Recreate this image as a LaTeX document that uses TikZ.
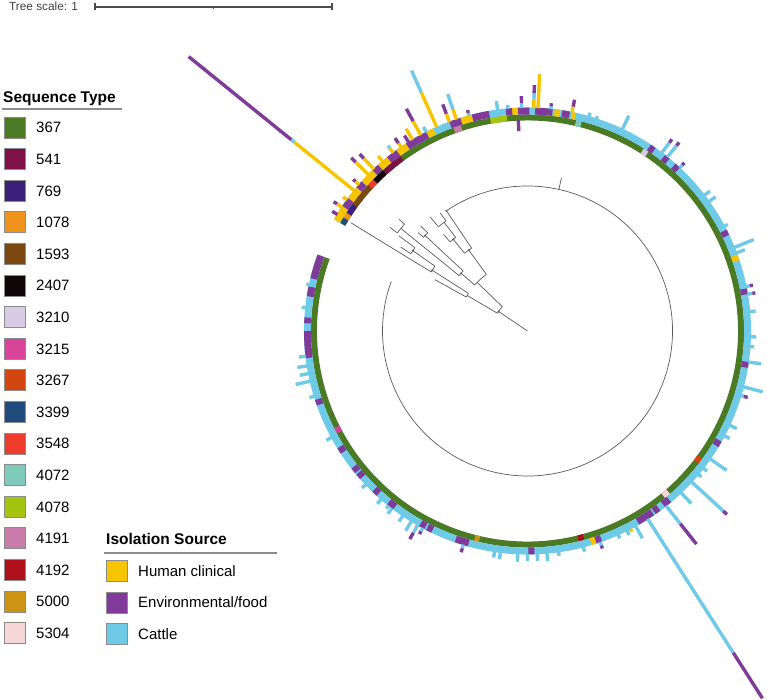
\documentclass[tikz,border=0pt]{standalone}
\usepackage{fontspec}
\setmainfont{Liberation Sans}
\usetikzlibrary{arrows.meta}
\usepackage{xcolor}

\definecolor{st367}{HTML}{4A7A23}
\definecolor{st541}{HTML}{7C1246}
\definecolor{st769}{HTML}{3B1F7A}
\definecolor{st1078}{HTML}{F0931E}
\definecolor{st1593}{HTML}{7A4810}
\definecolor{st2407}{HTML}{120609}
\definecolor{st3210}{HTML}{D9CBE6}
\definecolor{st3215}{HTML}{D9449A}
\definecolor{st3267}{HTML}{D4460F}
\definecolor{st3399}{HTML}{1F4C7C}
\definecolor{st3548}{HTML}{EF3B2C}
\definecolor{st4072}{HTML}{7FCABB}
\definecolor{st4078}{HTML}{A5C40F}
\definecolor{st4191}{HTML}{C97BA9}
\definecolor{st4192}{HTML}{AF0E1B}
\definecolor{st5000}{HTML}{CD9312}
\definecolor{st5304}{HTML}{F7D6D6}
\definecolor{hum}{HTML}{F6C500}
\definecolor{env}{HTML}{803A99}
\definecolor{cat}{HTML}{6FCAE8}

\begin{document}
\begin{tikzpicture}[x=1pt, y=1pt,
  key/.style={draw=black!45, line width=0.6pt, minimum size=21pt, inner sep=0pt},
  keylab/.style={anchor=base west, inner sep=0pt, font=\fontsize{15}{18}\selectfont},
  head/.style={anchor=base west, inner sep=0pt, font=\fontsize{15.5}{18}\selectfont\bfseries},
  rule/.style={draw=black!45, line width=1.1pt},
  branch/.style={draw=black!65, line width=0.7pt},
  stband/.style={line width=6pt},
  srcband/.style={line width=7pt},
  srcbar/.style={line width=3.4pt}
]
\useasboundingbox (0,0) rectangle (767,700);

% tree scale
\node[anchor=base west, inner sep=0pt, font=\fontsize{11.8}{14}\selectfont, text=black!75] (scaletxt) at (9,689) {Tree scale: 1};
\coordinate (sc0) at (95,693);
\coordinate (sc1) at (332,693);
\coordinate (scm) at (213.5,693);
\draw[draw=black!70, line width=1.1pt] (sc0) -- (sc1);
\draw[draw=black!70, line width=1.1pt] ([yshift=-3.5pt]sc0) -- ([yshift=3.5pt]sc0);
\draw[draw=black!70, line width=1.1pt] ([yshift=-3.5pt]sc1) -- ([yshift=3.5pt]sc1);
\draw[draw=black!70, line width=0.8pt] ([yshift=-2pt]scm) -- (scm);

% legend: sequence type
\node[head] (sthead) at (3,597) {Sequence Type};
\draw[rule] (2,591) -- (122,591);
\foreach \c/\t [count=\i from 0] in {st367/367, st541/541, st769/769, st1078/1078,
    st1593/1593, st2407/2407, st3210/3210, st3215/3215, st3267/3267, st3399/3399,
    st3548/3548, st4072/4072, st4078/4078, st4191/4191, st4192/4192, st5000/5000,
    st5304/5304}{
  \node[key, fill=\c] (key\t) at (15,572.5-31.6*\i) {};
  \node[keylab] (lab\t) at (36,567.1-31.6*\i) {\t};
}

% legend: isolation source
\node[head] (srchead) at (106,155) {Isolation Source};
\draw[rule] (104,147) -- (277,147);
\foreach \c/\t [count=\i from 0] in {hum/{Human clinical}, env/{Environmental/food}, cat/{Cattle}}{
  \node[key, fill=\c] (src\i) at (117,129-31.6*\i) {};
  \node[keylab] (srclab\i) at (138,123.6-31.6*\i) {\t};
}

\begin{scope}[shift={(527.5,369)}]
% sequence type ring
\draw[stband, draw=st367] (-200:213.5pt) arc[start angle=-200, end angle=150, radius=213.5pt];
\foreach \a/\b/\c in {148.3/150/st3399, 146.8/148.3/st1078, 144/146.8/st769,
    137.5/144/st1593, 135.5/137.5/st3548, 132/135.5/st2407, 126/132/st541,
    108/110/st4191, 95.5/100/st4078, 75.5/77/st4072, 56/57.5/st3210,
    -37.8/-36.2/st3267, -50.5/-48.8/st5304, -76.3/-74.8/st4192,
    -104.3/-103/st5000, -153.3/-151.8/st3215}
  \draw[stband, draw=\c] (\a:213.5pt) arc[start angle=\a, end angle=\b, radius=213.5pt];

% isolation source ring
\draw[srcband, draw=cat] (-200:220pt) arc[start angle=-200, end angle=150, radius=220pt];
\foreach \a/\b/\c in {-200/-193.7/env, -191.5/-189/env, -183.5/-182/env, -180/-173/env,
    -162/-160.5/env, -148.3/-146.7/env, -142/-140.5/env, -140/-138.5/env,
    -134/-132.5/env, -129/-127/env, -119/-117.5/env, -117/-115.5/env,
    -109/-105.5/env, -89.8/-88.2/env, -73.3/-72/hum, -72/-70.5/env,
    -60/-55.5/env, -55/-53.5/env, -52/-50/env, -31.3/-29.7/env, -9.5/-8/env,
    9.5/11/env, 18.5/20/hum, 25.5/27/env, 47/48.5/env, 50.5/52/env, 55/56.5/env,
    77.5/78.5/hum, 79/81/env, 81.5/83/hum, 83.5/88/env, 89.5/92.5/env,
    92.5/94/hum, 94/95.6/env, 100/104.5/env, 104.5/107.5/hum, 107.5/110.5/env,
    115/117/hum, 117/123/env, 123/126/hum, 126/129/env, 129/132/hum,
    132/134/env, 134/138/hum, 138/140/env, 140/143.5/hum, 143.5/146/env,
    146/150/hum}
  \draw[srcband, draw=\c] (\a:220pt) arc[start angle=\a, end angle=\b, radius=220pt];

% source bars
\foreach \a/\r/\s/\c in {141/223/300/hum, 141/300/304/cat, 141/304/436/env,
    -57.4/223/382/cat, -57.4/382/436/env,
    -51.6/223/246/cat, -51.6/246/272/env,
    -42.6/223/266/cat, -42.6/266/271/env,
    148.5/223/229/env, 146.3/223/229/hum, 146.3/229/233/env, 144/223/228/hum,
    139/223/228/hum, 139/228/231/env,
    135.5/223/241/hum, 135.5/241/247/env, 133.5/223/238/hum, 133.5/238/244/env,
    130.5/223/230/hum, 127/223/229/hum, 127/229/232/cat,
    124.5/223/228/hum, 124.5/228/234/env, 122.2/223/231/env, 121/223/236/hum,
    118.6/223/239/hum, 118.6/239/253/env, 117/223/229/cat,
    114/223/261/hum, 114/261/285/cat,
    110.5/223/232/hum, 110.5/232/242/env,
    108.6/223/234/hum, 108.6/234/250/cat,
    105.2/223/226/cat, 105.2/226/229/env, 97.7/223/232/cat, 95/223/227/cat,
    91.5/223/228/cat, 91.5/228/235/env,
    88.4/223/232/hum, 88.4/232/238/cat, 88.4/238/246/env,
    87.3/223/257/hum, 84/223/226/cat, 84/226/229/env,
    78.5/223/229/hum, 78.5/229/236/env, 74/223/227/cat, 72/223/226/cat,
    64.8/223/238/cat, 53/223/236/cat, 53/236/240/env,
    51.2/223/238/cat, 51.2/238/242/env, 47/223/227/cat, 47/227/230/env,
    37.5/223/230/cat, 35.5/223/231/cat, 28/223/227/cat,
    22/223/244/cat, 20.5/223/232/cat,
    11.5/223/227/cat, 11.5/227/230/env, 9.5/223/228/cat, 9.5/228/231/env,
    5/223/229/cat, -1.5/223/229/cat, -4/223/227/cat, -8/223/236/cat,
    -14.5/223/243/cat, -16.8/223/226/cat, -16.8/226/230/env,
    -25/223/231/cat, -28/223/229/cat, -35/223/243/cat, -38/223/228/cat,
    -40/223/227/cat, -46.5/223/238/cat,
    -61/223/237/cat, -62.5/223/226/hum, -63.5/223/228/cat, -66/223/227/cat,
    -71/223/227/cat, -71/227/230/env, -75.5/223/228/cat, -82/223/227/cat,
    -85/223/231/cat, -87.5/223/230/cat, -90/223/230/cat, -92.5/223/231/cat,
    -97/223/230/cat, -98.5/223/229/cat,
    -106.7/223/227/cat, -106.7/227/231/env, -118/223/227/cat, -118/227/230/env,
    -119.5/223/232/cat, -119.5/232/239/env, -121.4/223/234/cat,
    -124/223/230/cat, -127.4/223/230/cat, -128.5/223/227/cat, -131/223/229/cat,
    -136.5/223/228/cat, -151.5/223/229/cat, -163/223/228/cat,
    -167/223/238/cat, -169/223/232/cat, -171/223/233/cat, -173.5/223/230/cat,
    -186/223/227/cat, -192/223/226/cat, 92.5/200/211/env}
  \draw[srcbar, draw=\c] (\a:\r pt) -- (\a:\s pt);

% tree: radial branches
\foreach \a/\r/\s in {146/0/35, 149.5/35/70, 136/35/70, 151/70/106, 147.5/70/113,
    148.5/113/207, 145/113/140, 143.5/140/160, 146.5/140/152, 139/70/88,
    141/88/163, 139/163/170, 143/163/172, 137/88/140, 135.5/140/150, 138/140/147,
    126/70/100, 129/100/118, 131/118/128, 127.5/118/137, 126.5/137/147,
    130.5/137/150, 124/100/145, 77.5/145/157}
  \draw[branch] (\a:\r pt) -- (\a:\s pt);
% tree: arcs
\foreach \r/\a/\b in {35/136/149.5, 70/147.5/151, 113/145/148.5, 140/143.5/146.5,
    70/126/139, 88/137/141, 163/139/143, 140/135.5/138, 100/124/129,
    118/127.5/131, 137/126.5/130.5, 145/124/-200}
  \draw[branch] (\a:\r pt) arc[start angle=\a, end angle=\b, radius=\r pt];
% tree: node marks
\foreach \a/\r in {146/35, 147.5/113, 139/88, 126/100, 129/118, 145/140, 124/145, 137/140}
  \fill[black!65] (\a:\r pt) circle[radius=1.1pt];
\end{scope}
\end{tikzpicture}
\end{document}
